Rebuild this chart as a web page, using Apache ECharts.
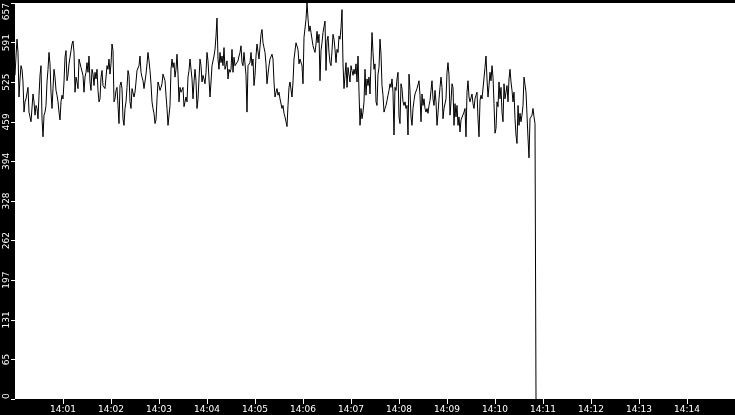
<!DOCTYPE html>
<html>
<head>
<meta charset="utf-8">
<script src="https://cdn.jsdelivr.net/npm/echarts@6/dist/echarts.min.js"></script>
<style>
  html, body { margin: 0; padding: 0; background: #000; }
  #chart { width: 735px; height: 415px; }
</style>
</head>
<body>
<div id="chart"></div>
<script>
// one sample every 1.25 s, starting at 14:00:00
const sampleStep = 1250;

// samples, in chunks of 112.5 s
const values1400 = [537, 569, 597, 575, 501, 531, 553, 547, 526, 476, 493, 498, 498, 517, 476, 468, 460, 460, 506, 493,
  471, 487, 482, 465, 504, 537, 553, 465, 435, 471, 476, 487, 526, 547, 575, 556, 509, 482, 515, 547,
  534, 512, 504, 493, 476, 463, 493, 504, 498, 526, 567, 578, 528, 537, 556, 567, 578, 589, 594, 575,
  509, 534, 526, 515, 564, 561, 550, 553, 537, 509, 534, 542, 558, 542, 569, 526, 512, 547, 539, 520,
  542, 531, 547, 512, 493, 498, 534, 545, 520, 523];
const values1401 = [515, 512, 553, 547, 564, 539, 556, 589, 578, 493, 498, 512, 517, 487, 457, 520, 526, 515, 465, 454,
  482, 493, 517, 545, 537, 493, 482, 515, 512, 501, 509, 526, 545, 545, 553, 569, 542, 534, 528, 515,
  517, 539, 556, 575, 561, 545, 523, 493, 482, 474, 457, 463, 498, 526, 520, 512, 517, 523, 539, 539,
  528, 504, 482, 454, 454, 487, 547, 564, 550, 558, 534, 547, 572, 539, 493, 517, 509, 509, 517, 485,
  482, 501, 493, 534, 545, 564, 567, 531, 498, 526];
const values1403 = [547, 528, 482, 498, 531, 564, 553, 526, 537, 531, 523, 542, 575, 561, 531, 501, 526, 553, 556, 569,
  580, 602, 632, 564, 547, 575, 558, 569, 553, 583, 547, 553, 561, 531, 547, 542, 547, 580, 542, 567,
  553, 550, 556, 561, 569, 575, 586, 558, 553, 575, 575, 537, 476, 553, 553, 558, 575, 553, 564, 520,
  537, 569, 589, 589, 564, 564, 605, 613, 591, 583, 575, 556, 523, 539, 553, 564, 564, 572, 564, 526,
  501, 509, 515, 504, 509, 498, 501, 482, 487, 474];
const values1405 = [468, 460, 452, 487, 517, 526, 523, 501, 526, 564, 567, 591, 589, 580, 556, 564, 561, 553, 523, 600,
  602, 630, 657, 632, 610, 619, 608, 597, 586, 580, 575, 589, 610, 591, 605, 528, 578, 591, 608, 610,
  627, 545, 594, 602, 575, 558, 553, 578, 605, 597, 580, 558, 580, 575, 602, 597, 616, 646, 556, 515,
  537, 558, 517, 550, 547, 526, 553, 545, 537, 547, 539, 556, 526, 569, 509, 454, 482, 465, 476, 493,
  547, 504, 531, 520, 534, 506, 558, 608, 575, 547];
const values1407 = [556, 493, 487, 539, 550, 597, 572, 520, 504, 476, 482, 487, 495, 504, 512, 523, 517, 531, 509, 438,
  517, 512, 531, 542, 468, 457, 523, 515, 493, 487, 493, 482, 487, 438, 539, 512, 468, 454, 482, 495,
  506, 506, 515, 517, 528, 504, 460, 506, 487, 498, 482, 476, 482, 474, 487, 495, 512, 528, 498, 487,
  512, 493, 454, 474, 498, 517, 534, 517, 465, 482, 479, 498, 542, 558, 537, 471, 493, 523, 517, 454,
  490, 468, 487, 454, 468, 443, 463, 460, 465, 476];
const values1409 = [482, 435, 509, 528, 501, 493, 493, 506, 490, 482, 498, 504, 509, 465, 435, 495, 504, 498, 498, 495,
  550, 569, 531, 501, 520, 542, 528, 553, 534, 490, 441, 449, 493, 485, 526, 498, 517, 476, 460, 523,
  498, 509, 520, 493, 531, 547, 526, 512, 493, 509, 465, 438, 424, 487, 454, 474, 460, 471, 487, 534,
  531, 509, 471, 433, 400, 465, 468, 471, 482, 468, 457, 0];

const xTickLabels = ['14:00', '14:01', '14:02', '14:03', '14:04', '14:05', '14:06', '14:07',
  '14:08', '14:09', '14:10', '14:11', '14:12', '14:13', '14:14', '14:15'];
const yTickLabels = ['0', '65', '131', '197', '262', '328', '394', '459', '525', '591', '657'];
const yMax = 657;

const startTime = new Date(2024, 0, 1, 14, 0, 0).getTime();
const endTime = startTime + (xTickLabels.length - 1) * 60000;
const yStep = yMax / (yTickLabels.length - 1);

const values = [].concat(values1400, values1401, values1403, values1405, values1407, values1409);
const seriesData = values.map((v, i) => [startTime + i * sampleStep, v]);

const chart = echarts.init(document.getElementById('chart'));
const labelFont = { color: '#fff', fontFamily: 'DejaVu Sans', fontSize: 9 };

const option = {
  backgroundColor: '#000',
  animation: false,
  grid: { left: 15, right: 0, top: 0, bottom: 16, show: true, backgroundColor: '#fff', borderWidth: 0 },
  xAxis: {
    type: 'value',
    min: startTime,
    max: endTime,
    interval: 60000,
    axisLine: { show: false },
    axisTick: { length: 5, lineStyle: { color: '#fff', width: 1 } },
    splitLine: { show: false },
    axisLabel: {
      ...labelFont,
      margin: 6,
      showMinLabel: false,
      showMaxLabel: false,
      formatter: v => xTickLabels[Math.round((v - startTime) / 60000)]
    }
  },
  yAxis: {
    type: 'value',
    min: 0,
    max: yMax,
    interval: yStep,
    axisLine: { show: false },
    axisTick: { length: 4, lineStyle: { color: '#fff', width: 1 } },
    splitLine: { show: false },
    axisLabel: {
      ...labelFont,
      rotate: 90,
      margin: 4,
      alignMinLabel: 'left',
      alignMaxLabel: 'right',
      formatter: v => yTickLabels[Math.round(v / yStep)]
    }
  },
  series: [
    {
      type: 'line',
      data: seriesData,
      symbol: 'none',
      silent: true,
      lineStyle: { color: '#000', width: 1 }
    }
  ]
};
chart.setOption(option);
</script>
</body>
</html>
